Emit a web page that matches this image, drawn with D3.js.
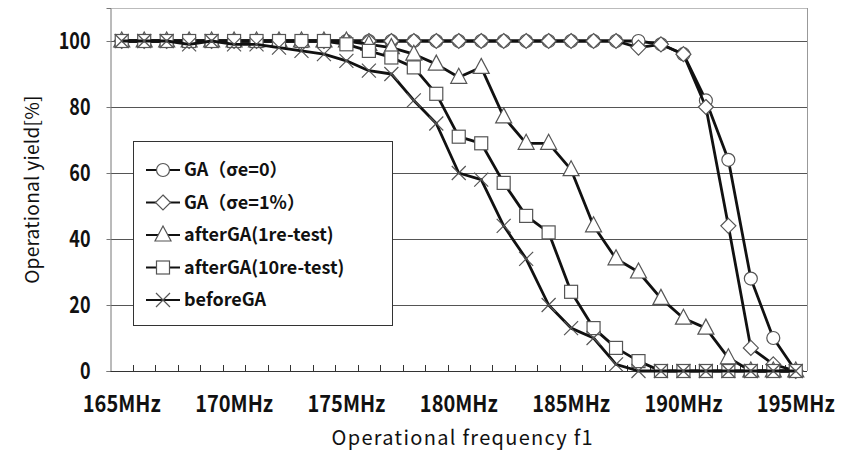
<!DOCTYPE html>
<html><head><meta charset="utf-8">
<script src="https://cdn.jsdelivr.net/npm/d3@7"></script>
<style>
body{margin:0;background:#fff;}
svg{display:block;}
text{font-family:"Noto Sans CJK JP","Noto Sans",sans-serif;}
</style></head>
<body><svg id="c" width="852" height="451"></svg>
<script>
const freqs=[165,166,167,168,169,170,171,172,173,174,175,176,177,178,179,180,181,182,183,184,185,186,187,188,189,190,191,192,193,194,195];
const gaSigma0=[100,100,100,100,100,100,100,100,100,100,100,100,100,100,100,100,100,100,100,100,100,100,100,100,99,96,82,64,28,10,0];
const gaSigma1=[100,100,100,100,100,100,100,100,100,100,100,100,100,100,100,100,100,100,100,100,100,100,100,98,99,96,80,44,7,2,0];
const after1=[100,100,100,100,100,100,100,100,100,100,100,99,98,96,93,89,92,77,69,69,61,44,34,30,22,16,13,4,0,0,0];
const after10=[100,100,100,100,100,100,100,100,100,100,99,97,95,92,84,71,69,57,47,42,24,13,7,3,0,0,0,0,0,0,0];
const before=[100,100,100,99,100,99,99,98,97,96,94,91,90,82,75,60,58,44,34,20,13,10,2,0,0,0,0,0,0,0,0];
const seriesNames=["GA（σe=0）","GA（σe=1%）","afterGA(1re-test)","afterGA(10re-test)","beforeGA"];
const yTicks=[0,20,40,60,80,100];
const xLabelTicks=[165,170,175,180,185,190,195];

const svg=d3.select("#c");
const L=110.5,R=807,T=8,B=371;
const x=d3.scaleBand().domain(freqs).range([L,R]).padding(0);
const y=d3.scaleLinear().domain([0,110]).range([B,T]);
const cx=d=>x(d)+x.bandwidth()/2;

function condense(sel,f){
 sel.each(function(){const w=this.getComputedTextLength();
  d3.select(this).attr("textLength",w*f).attr("lengthAdjust","spacingAndGlyphs");});
}

// plot border (light)
svg.append("line").attr("x1",L).attr("x2",R).attr("y1",T+0.5).attr("y2",T+0.5).attr("stroke","#bbb");
svg.append("line").attr("x1",R+0.5).attr("x2",R+0.5).attr("y1",T).attr("y2",B).attr("stroke","#999");
// gridlines
svg.append("g").selectAll("line").data(yTicks.filter(d=>d>0)).join("line")
 .attr("x1",L).attr("x2",R).attr("y1",d=>Math.round(y(d))+0.5).attr("y2",d=>Math.round(y(d))+0.5)
 .attr("stroke","#555").attr("stroke-width",1);

// y axis
const yAxis=svg.append("g").attr("transform",`translate(${L},0)`)
 .call(d3.axisLeft(y).tickValues(yTicks).tickSize(4).tickPadding(16));
yAxis.select(".domain").attr("stroke","#777");
yAxis.selectAll(".tick line").attr("stroke","#777");
yAxis.selectAll("text").attr("font-size",23).attr("font-weight","bold").attr("fill","#111").call(condense,0.78);

// x axis
const xAxis=svg.append("g").attr("transform",`translate(0,${B})`)
 .call(d3.axisBottom(x).tickValues(xLabelTicks).tickFormat(d=>d+"MHz").tickSize(0).tickPadding(25));
xAxis.select(".domain").attr("stroke","#333").attr("d",`M${L},0.5H${R}`);
xAxis.selectAll("text").attr("font-size",23).attr("font-weight","bold").attr("fill","#111").call(condense,0.87);
// inside tick marks at band boundaries
svg.append("g").selectAll("line").data(freqs.slice(1)).join("line")
 .attr("x1",d=>Math.round(x(d))+0.5).attr("x2",d=>Math.round(x(d))+0.5)
 .attr("y1",B).attr("y2",B-6).attr("stroke","#333");

// axis titles
svg.append("text").attr("x",(L+R)/2+4).attr("y",445).attr("text-anchor","middle")
 .attr("font-size",20).attr("letter-spacing",1.3).attr("fill","#111").text("Operational frequency f1");
svg.append("text").attr("transform",`translate(39,${(T+B)/2}) rotate(-90)`).attr("text-anchor","middle")
 .attr("font-size",19).attr("letter-spacing",0.3).attr("fill","#111").text("Operational yield[%]");

// marker painters
const mk={
 circle:(g)=>g.append("circle").attr("r",6.5),
 diamond:(g)=>g.append("path").attr("d","M0,-7.5L7.5,0L0,7.5L-7.5,0Z"),
 triangle:(g)=>g.append("path").attr("d","M0,-9L8,6L-8,6Z"),
 square:(g)=>g.append("rect").attr("x",-6.5).attr("y",-6.5).attr("width",13).attr("height",13),
 cross:(g)=>g.append("path").attr("d","M-7,-7L7,7M-7,7L7,-7")
};
const styleMk=(sel,kind)=>{
 if(kind==="cross") sel.attr("fill","none").attr("stroke","#555").attr("stroke-width",1.2);
 else sel.attr("fill","#fff").attr("stroke","#555").attr("stroke-width",1.2);
};
const series=[
 {name:seriesNames[0],vals:gaSigma0,kind:"circle"},
 {name:seriesNames[1],vals:gaSigma1,kind:"diamond"},
 {name:seriesNames[2],vals:after1,kind:"triangle"},
 {name:seriesNames[3],vals:after10,kind:"square"},
 {name:seriesNames[4],vals:before,kind:"cross"}
];
const line=d3.line().x(d=>cx(d[0])).y(d=>y(d[1]));
series.forEach(s=>{
 const pts=freqs.map((f,i)=>[f,s.vals[i]]);
 svg.append("path").datum(pts).attr("d",line).attr("fill","none").attr("stroke","#111").attr("stroke-width",2.8).attr("stroke-linejoin","round");
 const g=svg.append("g");
 pts.forEach(p=>{
  const m=g.append("g").attr("transform",`translate(${cx(p[0])},${y(p[1])})`);
  styleMk(mk[s.kind](m),s.kind);
 });
});

// legend
const lg=svg.append("g");
lg.append("rect").attr("x",133.5).attr("y",141.5).attr("width",259).attr("height",184).attr("fill","#fff").attr("stroke","#333");
series.forEach((s,i)=>{
 const yy=170+32.5*i;
 lg.append("line").attr("x1",146).attr("x2",180).attr("y1",yy).attr("y2",yy).attr("stroke","#111").attr("stroke-width",2);
 const m=lg.append("g").attr("transform",`translate(163,${yy})`);
 styleMk(mk[s.kind](m),s.kind);
 lg.append("text").attr("x",184).attr("y",yy).attr("dy","0.36em").attr("font-size",18).attr("font-weight","bold").attr("fill","#111").text(s.name);
});
</script></body></html>
